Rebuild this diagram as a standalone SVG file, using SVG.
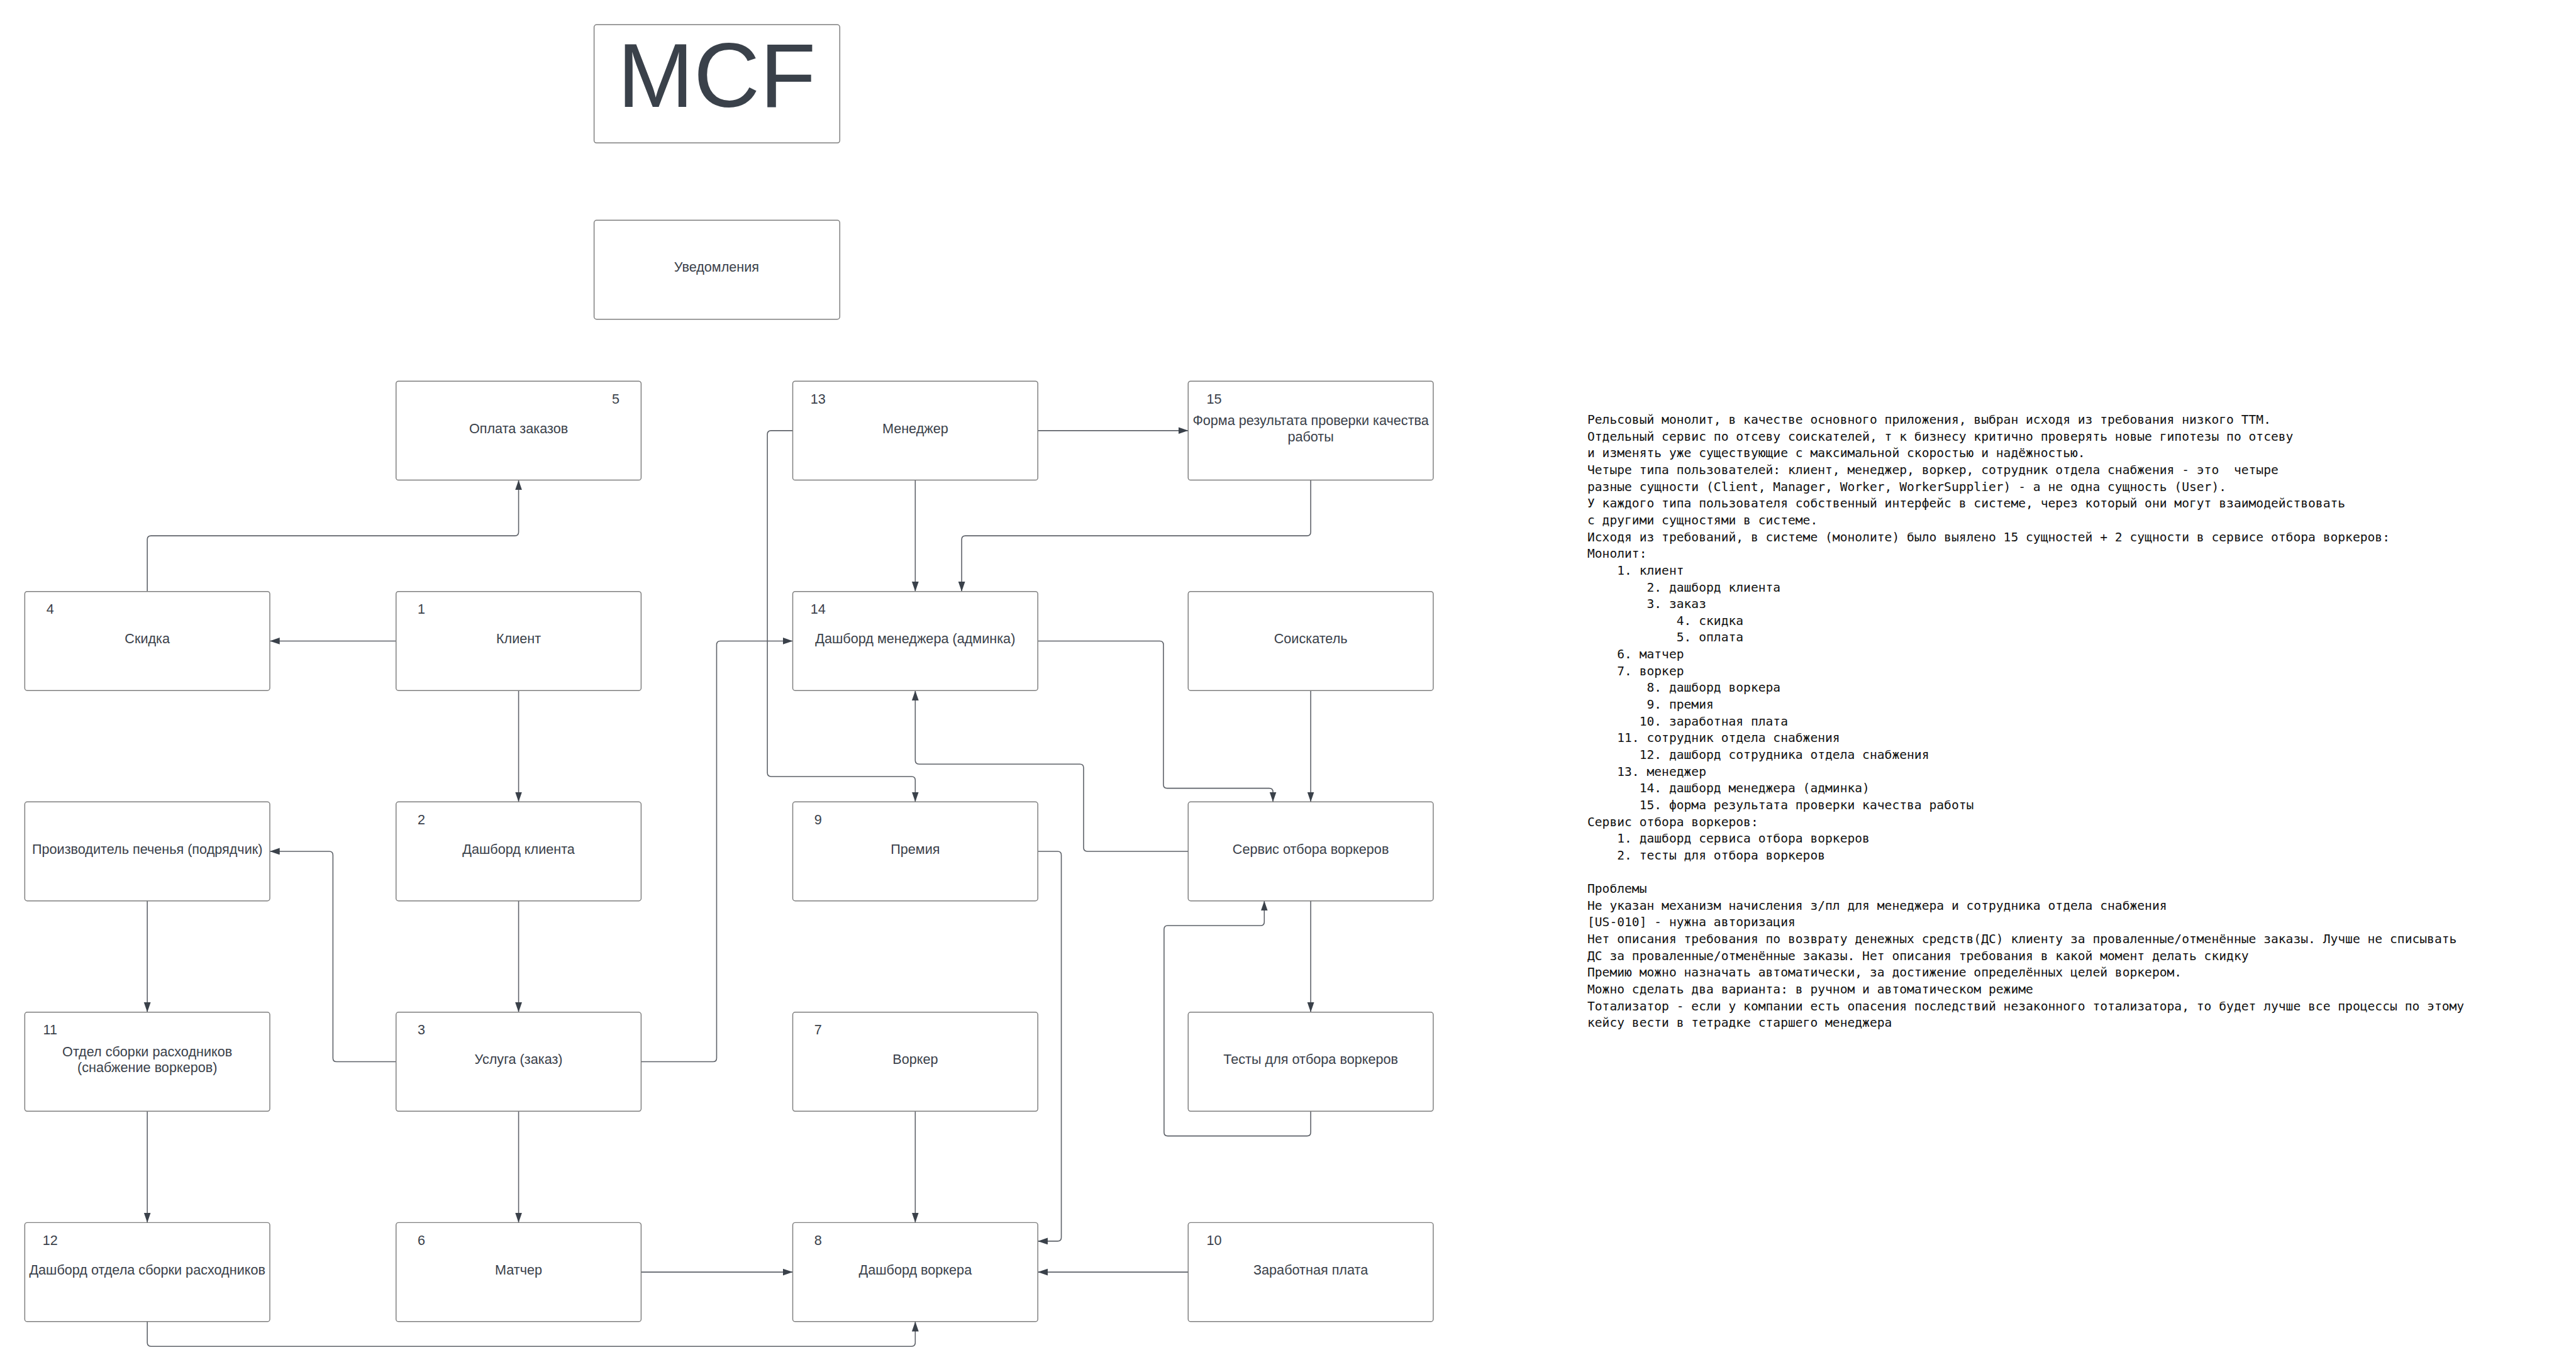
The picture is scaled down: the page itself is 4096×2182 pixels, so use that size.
<svg xmlns="http://www.w3.org/2000/svg" width="4096" height="2182" viewBox="0 0 4096 2182">
<style>
.box{fill:#ffffff;stroke:#7e7e7e;stroke-width:1.5}
.lbl{font-family:"Liberation Sans",Arial,sans-serif;font-size:22px;fill:#3a414a;text-anchor:middle}
.num{font-family:"Liberation Sans",Arial,sans-serif;font-size:22px;fill:#3a414a;text-anchor:middle}
.title{font-family:"Liberation Sans",Arial,sans-serif;font-size:148px;fill:#3a414a;text-anchor:middle}
.edge{fill:none;stroke:#5d6168;stroke-width:1.6;marker-end:url(#arr)}
.note{font-family:"DejaVu Sans Mono","Liberation Mono",monospace;font-size:19.95px;fill:#111111}
</style>
<defs>
<marker id="arr" markerUnits="userSpaceOnUse" markerWidth="17" markerHeight="12" refX="16" refY="5.5" orient="auto">
<path d="M0,0 L16,5.5 L0,11 z" fill="#3a414a"/>
</marker>
</defs>
<rect width="4096" height="2182" fill="#ffffff"/>
<g transform="scale(0.984)">
<g id="connectors">
<path class="edge" d="M238,956 V872 Q238,866 244,866 H832 Q838,866 838,860 V776"/>
<path class="edge" d="M640,1036 H436"/>
<path class="edge" d="M838,1116 V1296"/>
<path class="edge" d="M838,1456 V1636"/>
<path class="edge" d="M238,1456 V1636"/>
<path class="edge" d="M238,1796 V1976"/>
<path class="edge" d="M640,1716 H544 Q538,1716 538,1710 V1382 Q538,1376 532,1376 H436"/>
<path class="edge" d="M838,1796 V1976"/>
<path class="edge" d="M238,2136 V2170 Q238,2176 244,2176 H1473 Q1479,2176 1479,2170 V2136"/>
<path class="edge" d="M1036,2056 H1281"/>
<path class="edge" d="M1036,1716 H1152 Q1158,1716 1158,1710 V1042 Q1158,1036 1164,1036 H1281"/>
<path class="edge" d="M1281,696 H1246 Q1240,696 1240,702 V1249 Q1240,1255 1246,1255 H1473 Q1479,1255 1479,1261 V1296"/>
<path class="edge" d="M1677,696 H1920"/>
<path class="edge" d="M1479,776 V956"/>
<path class="edge" d="M2118,776 V860 Q2118,866 2112,866 H1560 Q1554,866 1554,872 V956"/>
<path class="edge" d="M1677,1036 H1874 Q1880,1036 1880,1042 V1268 Q1880,1274 1886,1274 H2051 Q2057,1274 2057,1280 V1296"/>
<path class="edge" d="M2118,1116 V1296"/>
<path class="edge" d="M1920,1376 H1757 Q1751,1376 1751,1370 V1241 Q1751,1235 1745,1235 H1485 Q1479,1235 1479,1229 V1116"/>
<path class="edge" d="M1677,1376 H1709 Q1715,1376 1715,1382 V2000 Q1715,2006 1709,2006 H1677"/>
<path class="edge" d="M1479,1796 V1976"/>
<path class="edge" d="M1920,2056 H1677"/>
<path class="edge" d="M2118,1456 V1636"/>
<path class="edge" d="M2118,1796 V1830 Q2118,1836 2112,1836 H1887 Q1881,1836 1881,1830 V1502 Q1881,1496 1887,1496 H2037 Q2043,1496 2043,1490 V1456"/>
</g>
<g id="mcf"><rect class="box" x="960" y="40" width="397" height="191" rx="4"/><text class="title" x="1158" y="173">MCF</text></g>
<g id="notifications"><rect class="box" x="960" y="356" width="397" height="160" rx="4"/><text class="lbl" x="1158" y="439">Уведомления</text></g>
<g id="n5"><rect class="box" x="640" y="616" width="396" height="160" rx="4"/><text class="num" x="995" y="652">5</text><text class="lbl" x="838" y="700">Оплата заказов</text></g>
<g id="n13"><rect class="box" x="1281" y="616" width="396" height="160" rx="4"/><text class="num" x="1322" y="652">13</text><text class="lbl" x="1479" y="700">Менеджер</text></g>
<g id="n15"><rect class="box" x="1920" y="616" width="396" height="160" rx="4"/><text class="num" x="1962" y="652">15</text><text class="lbl" x="2118" y="687">Форма результата проверки качества</text><text class="lbl" x="2118" y="713">работы</text></g>
<g id="n4"><rect class="box" x="40" y="956" width="396" height="160" rx="4"/><text class="num" x="81" y="992">4</text><text class="lbl" x="238" y="1040">Скидка</text></g>
<g id="n1"><rect class="box" x="640" y="956" width="396" height="160" rx="4"/><text class="num" x="681" y="992">1</text><text class="lbl" x="838" y="1040">Клиент</text></g>
<g id="n14"><rect class="box" x="1281" y="956" width="396" height="160" rx="4"/><text class="num" x="1322" y="992">14</text><text class="lbl" x="1479" y="1040">Дашборд менеджера (админка)</text></g>
<g id="seeker"><rect class="box" x="1920" y="956" width="396" height="160" rx="4"/><text class="lbl" x="2118" y="1040">Соискатель</text></g>
<g id="producer"><rect class="box" x="40" y="1296" width="396" height="160" rx="4"/><text class="lbl" x="238" y="1380">Производитель печенья (подрядчик)</text></g>
<g id="n2"><rect class="box" x="640" y="1296" width="396" height="160" rx="4"/><text class="num" x="681" y="1332">2</text><text class="lbl" x="838" y="1380">Дашборд клиента</text></g>
<g id="n9"><rect class="box" x="1281" y="1296" width="396" height="160" rx="4"/><text class="num" x="1322" y="1332">9</text><text class="lbl" x="1479" y="1380">Премия</text></g>
<g id="service"><rect class="box" x="1920" y="1296" width="396" height="160" rx="4"/><text class="lbl" x="2118" y="1380">Сервис отбора воркеров</text></g>
<g id="n11"><rect class="box" x="40" y="1636" width="396" height="160" rx="4"/><text class="num" x="81" y="1672">11</text><text class="lbl" x="238" y="1707">Отдел сборки расходников</text><text class="lbl" x="238" y="1733">(снабжение воркеров)</text></g>
<g id="n3"><rect class="box" x="640" y="1636" width="396" height="160" rx="4"/><text class="num" x="681" y="1672">3</text><text class="lbl" x="838" y="1720">Услуга (заказ)</text></g>
<g id="n7"><rect class="box" x="1281" y="1636" width="396" height="160" rx="4"/><text class="num" x="1322" y="1672">7</text><text class="lbl" x="1479" y="1720">Воркер</text></g>
<g id="tests"><rect class="box" x="1920" y="1636" width="396" height="160" rx="4"/><text class="lbl" x="2118" y="1720">Тесты для отбора воркеров</text></g>
<g id="n12"><rect class="box" x="40" y="1976" width="396" height="160" rx="4"/><text class="num" x="81" y="2012">12</text><text class="lbl" x="238" y="2060">Дашборд отдела сборки расходников</text></g>
<g id="n6"><rect class="box" x="640" y="1976" width="396" height="160" rx="4"/><text class="num" x="681" y="2012">6</text><text class="lbl" x="838" y="2060">Матчер</text></g>
<g id="n8"><rect class="box" x="1281" y="1976" width="396" height="160" rx="4"/><text class="num" x="1322" y="2012">8</text><text class="lbl" x="1479" y="2060">Дашборд воркера</text></g>
<g id="n10"><rect class="box" x="1920" y="1976" width="396" height="160" rx="4"/><text class="num" x="1962" y="2012">10</text><text class="lbl" x="2118" y="2060">Заработная плата</text></g>
<g id="notes">
<text class="note" xml:space="preserve">
<tspan x="2565" y="685">Рельсовый монолит, в качестве основного приложения, выбран исходя из требования низкого TTM.</tspan>
<tspan x="2565" y="712.1">Отдельный сервис по отсеву соискателей, т к бизнесу критично проверять новые гипотезы по отсеву</tspan>
<tspan x="2565" y="739.2">и изменять уже существующие с максимальной скоростью и надёжностью.</tspan>
<tspan x="2565" y="766.2">Четыре типа пользователей: клиент, менеджер, воркер, сотрудник отдела снабжения - это  четыре</tspan>
<tspan x="2565" y="793.3">разные сущности (Client, Manager, Worker, WorkerSupplier) - а не одна сущность (User).</tspan>
<tspan x="2565" y="820.4">У каждого типа пользователя собственный интерфейс в системе, через который они могут взаимодействовать</tspan>
<tspan x="2565" y="847.5">с другими сущностями в системе.</tspan>
<tspan x="2565" y="874.6">Исходя из требований, в системе (монолите) было выялено 15 сущностей + 2 сущности в сервисе отбора воркеров:</tspan>
<tspan x="2565" y="901.6">Монолит:</tspan>
<tspan x="2565" y="928.7">    1. клиент</tspan>
<tspan x="2565" y="955.8">        2. дашборд клиента</tspan>
<tspan x="2565" y="982.9">        3. заказ</tspan>
<tspan x="2565" y="1010">            4. скидка</tspan>
<tspan x="2565" y="1037">            5. оплата</tspan>
<tspan x="2565" y="1064.1">    6. матчер</tspan>
<tspan x="2565" y="1091.2">    7. воркер</tspan>
<tspan x="2565" y="1118.3">        8. дашборд воркера</tspan>
<tspan x="2565" y="1145.4">        9. премия</tspan>
<tspan x="2565" y="1172.4">       10. заработная плата</tspan>
<tspan x="2565" y="1199.5">    11. сотрудник отдела снабжения</tspan>
<tspan x="2565" y="1226.6">       12. дашборд сотрудника отдела снабжения</tspan>
<tspan x="2565" y="1253.7">    13. менеджер</tspan>
<tspan x="2565" y="1280.8">       14. дашборд менеджера (админка)</tspan>
<tspan x="2565" y="1307.8">       15. форма результата проверки качества работы</tspan>
<tspan x="2565" y="1334.9">Сервис отбора воркеров:</tspan>
<tspan x="2565" y="1362">    1. дашборд сервиса отбора воркеров</tspan>
<tspan x="2565" y="1389.1">    2. тесты для отбора воркеров</tspan>
<tspan x="2565" y="1443.2">Проблемы</tspan>
<tspan x="2565" y="1470.3">Не указан механизм начисления з/пл для менеджера и сотрудника отдела снабжения</tspan>
<tspan x="2565" y="1497.4">[US-010] - нужна авторизация</tspan>
<tspan x="2565" y="1524.5">Нет описания требования по возврату денежных средств(ДС) клиенту за проваленные/отменённые заказы. Лучше не списывать</tspan>
<tspan x="2565" y="1551.6">ДС за проваленные/отменённые заказы. Нет описания требования в какой момент делать скидку</tspan>
<tspan x="2565" y="1578.6">Премию можно назначать автоматически, за достижение определённых целей воркером.</tspan>
<tspan x="2565" y="1605.7">Можно сделать два варианта: в ручном и автоматическом режиме</tspan>
<tspan x="2565" y="1632.8">Тотализатор - если у компании есть опасения последствий незаконного тотализатора, то будет лучше все процессы по этому</tspan>
<tspan x="2565" y="1659.9">кейсу вести в тетрадке старшего менеджера</tspan>
</text>
</g>
</g>
</svg>
